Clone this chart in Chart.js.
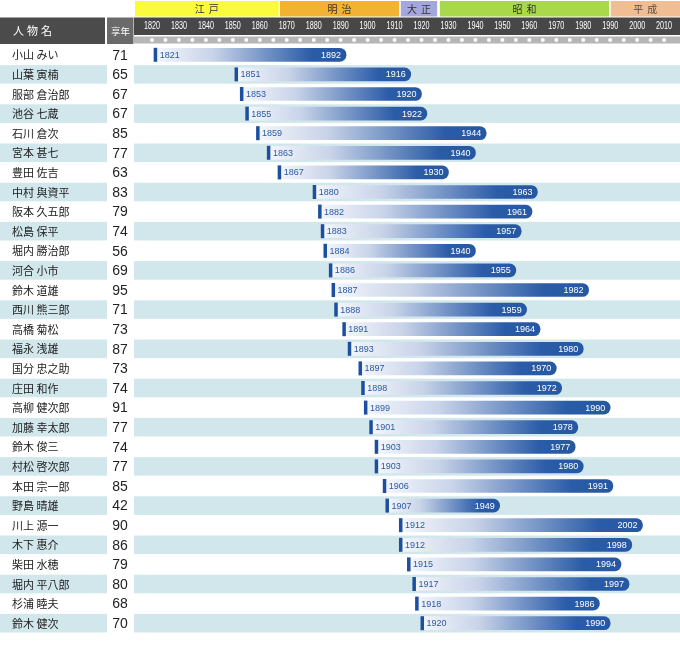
<!DOCTYPE html>
<html lang="ja">
<head>
<meta charset="utf-8">
<title>人物年表</title>
<script src="https://cdn.jsdelivr.net/npm/chart.js@4.4.0/dist/chart.umd.min.js"></script>
<style>
  html, body { margin: 0; padding: 0; background: #fff; }
  #wrap { width: 680px; height: 653px; }
</style>
</head>
<body>
<div id="wrap"><canvas id="chart" width="680" height="653"></canvas></div>
<script>
// data
const names = [
  "小山 みい", "山葉 寅楠", "服部 倉治郎", "池谷 七蔵", "石川 倉次",
  "宮本 甚七", "豊田 佐吉", "中村 與資平", "阪本 久五郎", "松島 保平",
  "堀内 勝治郎", "河合 小市", "鈴木 道雄", "西川 熊三郎", "高橋 菊松",
  "福永 浅雄", "国分 忠之助", "庄田 和作", "高柳 健次郎", "加藤 幸太郎",
  "鈴木 俊三", "村松 啓次郎", "本田 宗一郎", "野島 晴雄", "川上 源一",
  "木下 惠介", "柴田 水穂", "堀内 平八郎", "杉浦 睦夫", "鈴木 健次"
];
const ages = [71, 65, 67, 67, 85, 77, 63, 83, 79, 74, 56, 69, 95, 71, 73,
              87, 73, 74, 91, 77, 74, 77, 85, 42, 90, 86, 79, 80, 68, 70];
const births = [1821, 1851, 1853, 1855, 1859, 1863, 1867, 1880, 1882, 1883,
                1884, 1886, 1887, 1888, 1891, 1893, 1897, 1898, 1899, 1901,
                1903, 1903, 1906, 1907, 1912, 1912, 1915, 1917, 1918, 1920];
const deaths = [1892, 1916, 1920, 1922, 1944, 1940, 1930, 1963, 1961, 1957,
                1940, 1955, 1982, 1959, 1964, 1980, 1970, 1972, 1990, 1978,
                1977, 1980, 1991, 1949, 2002, 1998, 1994, 1997, 1986, 1990];

const yearTicks = [1820, 1830, 1840, 1850, 1860, 1870, 1880, 1890, 1900, 1910,
                   1920, 1930, 1940, 1950, 1960, 1970, 1980, 1990, 2000, 2010];

const eraNames = ["江戸", "明治", "大正", "昭和", "平成"];
const eraStarts = [1813.7, 1867.5, 1912.3, 1926.8, 1990.2];
const eraEnds = [1867, 1911.7, 1925.8, 1989.6, 2015.9];

const xMin = 1813.7, xMax = 2015.9;

// styles
const eraColors = ["#fbfb3e", "#f2b233", "#a4a7dc", "#a8d94d", "#f1be94"];
const bandColor = "#d2e7ec";
const barDark = "#2657a3";
const markerColor = "#1d4f9f";
const jpFont = "'Noto Sans CJK JP', 'Noto Sans', sans-serif";
const numFont = "'Liberation Sans', Arial, sans-serif";

const timelinePlugin = {
  id: "timeline",
  beforeDatasetsDraw(chart) {
    const { ctx, chartArea } = chart;
    const xs = chart.scales.x, ys = chart.scales.y;
    const rowH = ys.getPixelForValue(1) - ys.getPixelForValue(0);
    ctx.save();

    // row stripes, names, ages
    names.forEach((n, i) => {
      const yc = ys.getPixelForValue(i);
      if (i % 2 === 1) {
        ctx.fillStyle = bandColor;
        ctx.fillRect(0, yc - rowH / 2 + 0.5, 107, rowH - 1);
        ctx.fillRect(134, yc - rowH / 2 + 0.5, chartArea.right - 134, rowH - 1);
      }
      ctx.fillStyle = "#222";
      ctx.textBaseline = "middle";
      ctx.textAlign = "left";
      ctx.font = "11px " + jpFont;
      ctx.fillText(n, 12, yc + 0.5);
      ctx.textAlign = "center";
      ctx.font = "14px " + numFont;
      ctx.fillText(String(ages[i]), 120, yc + 1);
    });

    // era header
    ctx.textAlign = "center";
    ctx.textBaseline = "middle";
    eraNames.forEach((e, i) => {
      const a = xs.getPixelForValue(eraStarts[i]);
      const b = xs.getPixelForValue(eraEnds[i]);
      ctx.fillStyle = eraColors[i];
      ctx.fillRect(a, 1, b - a, 15.5);
      ctx.fillStyle = i === 4 ? "#5a4a40" : "#333";
      ctx.font = "10px " + jpFont;
      ctx.letterSpacing = "4px";
      ctx.fillText(e, (a + b) / 2 + 2, 9);
    });
    ctx.letterSpacing = "0px";

    // year band
    ctx.fillStyle = "#474747";
    ctx.fillRect(134, 17.5, chartArea.right - 134, 17.5);
    ctx.fillStyle = "#b6b6b6";
    ctx.fillRect(134, 36.5, chartArea.right - 134, 7);
    ctx.fillStyle = "#fff";
    ctx.font = "10px " + numFont;
    yearTicks.forEach(t => {
      const x = xs.getPixelForValue(t);
      ctx.save();
      ctx.translate(x, 26.5);
      ctx.scale(0.72, 1);
      ctx.fillText(String(t), 0, 0);
      ctx.restore();
    });
    for (let t = yearTicks[0]; t <= yearTicks[yearTicks.length - 1]; t += 5) {
      ctx.beginPath();
      ctx.arc(xs.getPixelForValue(t), 40, 2, 0, Math.PI * 2);
      ctx.fill();
    }

    // left headers
    ctx.fillStyle = "#4b4b4b";
    ctx.fillRect(0, 17.5, 105, 26.5);
    ctx.fillStyle = "#6a6a6a";
    ctx.fillRect(107, 17.5, 26.5, 26.5);
    ctx.fillStyle = "#fff";
    ctx.textAlign = "left";
    ctx.font = "11px " + jpFont;
    ctx.letterSpacing = "3px";
    ctx.fillText("人物名", 13, 31);
    ctx.letterSpacing = "0px";
    ctx.textAlign = "center";
    ctx.font = "9.5px " + jpFont;
    ctx.fillText("享年", 120.5, 31);

    ctx.restore();
  },
  afterDatasetsDraw(chart) {
    const { ctx } = chart;
    const meta = chart.getDatasetMeta(0);
    ctx.save();
    ctx.textBaseline = "middle";
    ctx.font = "9px " + numFont;
    meta.data.forEach((el, i) => {
      const h = el.height;
      ctx.fillStyle = markerColor;
      ctx.fillRect(el.base - 1, el.y - h / 2 - 0.5, 3.5, h + 1);
      ctx.fillStyle = "#2a5aa6";
      ctx.textAlign = "left";
      ctx.fillText(String(births[i]), el.base + 5, el.y + 0.5);
      ctx.fillStyle = "#fff";
      ctx.textAlign = "right";
      ctx.fillText(String(deaths[i]), el.x - 5, el.y + 0.5);
    });
    ctx.restore();
  }
};

document.addEventListener("DOMContentLoaded", () => {
  const ctx = document.getElementById("chart").getContext("2d");

  new Chart(ctx, {
    type: "bar",
    data: {
      labels: names,
      datasets: [{
        data: births.map((b, i) => [b, deaths[i]]),
        backgroundColor: c => {
          const chart = c.chart;
          const xs = chart.scales.x;
          if (!chart.chartArea || !xs) return barDark;
          const x0 = xs.getPixelForValue(births[c.dataIndex]);
          const x1 = xs.getPixelForValue(deaths[c.dataIndex]);
          const g = chart.ctx.createLinearGradient(x0, 0, x1, 0);
          g.addColorStop(0, "#f4f6fb");
          g.addColorStop(0.3, "#c9d4e9");
          g.addColorStop(0.82, "#2b5ca8");
          g.addColorStop(1, barDark);
          return g;
        },
        borderWidth: 0,
        borderSkipped: false,
        borderRadius: { topLeft: 0, bottomLeft: 0, topRight: 7, bottomRight: 7 },
        barThickness: 13
      }]
    },
    options: {
      indexAxis: "y",
      responsive: false,
      animation: false,
      layout: { padding: { top: 45, bottom: 20, left: 135, right: 0 } },
      scales: {
        x: { type: "linear", min: xMin, max: xMax, display: false },
        y: { display: false }
      },
      plugins: {
        legend: { display: false },
        tooltip: { enabled: false }
      }
    },
    plugins: [timelinePlugin]
  });
});
</script>
</body>
</html>
